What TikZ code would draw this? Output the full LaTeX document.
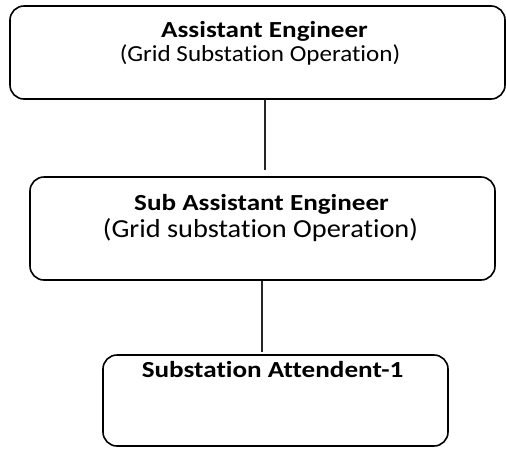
\documentclass[tikz,border=0pt]{standalone}
\usepackage{fontspec}
\setmainfont[RawFeature=-liga]{Carlito}
\newfontfamily\headfont[FakeStretch=1.18,RawFeature=-liga]{Carlito}
\newfontfamily\notefont[FakeStretch=1.09,RawFeature=-liga]{Carlito}
\begin{document}
\begin{tikzpicture}[x=1pt,y=-1pt,
  box/.style={draw=black, line width=1.6pt, rounded corners=14pt, inner sep=0pt},
  title/.style={anchor=base, inner sep=0pt, font=\headfont\fontsize{23}{27}\selectfont\bfseries},
  subtitle/.style={anchor=base, inner sep=0pt, font=\notefont\fontsize{23}{27}\selectfont},
  link/.style={draw=black!85, line width=1.1pt}]
\useasboundingbox (0,0) rectangle (506,448);

% boxes
\node[box, minimum width=495pt, minimum height=93pt]  (ae)  at (257.5,52.5) {};
\node[box, minimum width=465pt, minimum height=103pt] (sae) at (262.5,228.5) {};
\node[box, minimum width=345pt, minimum height=91pt]  (sa)  at (275.5,400.5) {};

% texts
\node[title]    (aet) at (264.5,37) {Assistant Engineer};
\node[subtitle] (aes) at (260,61) {(Grid Substation Operation)};
\node[title]    (saet) at (261.5,210) {Sub Assistant Engineer};
\node[subtitle, font=\notefont\fontsize{26}{30}\selectfont] (saes) at (260.5,237) {(Grid substation Operation)};
\node[title]    (sat) at (272.5,377) {Substation Attendent-1};

% connectors
\coordinate (c1) at (265,170);
\coordinate (c2) at (262,352);
\draw[link] (ae.south -| c1) -- (c1);
\draw[link] (sae.south -| c2) -- (c2);
\end{tikzpicture}
\end{document}
